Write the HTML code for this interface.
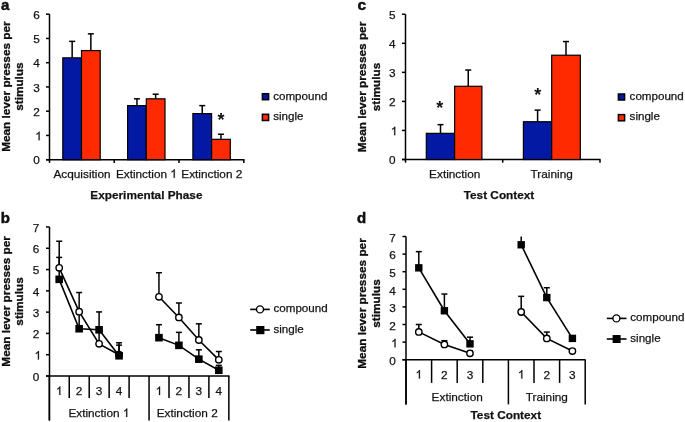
<!DOCTYPE html>
<html><head><meta charset="utf-8"><title>Figure</title>
<style>
html,body{margin:0;padding:0;background:#fff;}
body{width:685px;height:422px;overflow:hidden;}
svg{display:block;font-family:"Liberation Sans",sans-serif;will-change:transform;}
svg text{fill:#111;}
</style></head>
<body>
<svg width="685" height="422" viewBox="0 0 685 422">
<rect width="685" height="422" fill="#fff"/>
<g>
<text x="1.10" y="10.20" text-anchor="start" font-size="15" font-weight="bold" stroke="#000" stroke-width="0.45">a</text>
<line x1="49.50" y1="14.20" x2="49.50" y2="159.70" stroke="#000" stroke-width="1.5"/>
<line x1="46.00" y1="159.70" x2="49.50" y2="159.70" stroke="#000" stroke-width="1.5"/>
<text x="39.90" y="164.40" text-anchor="end" font-size="11.8" stroke="#1a1a1a" stroke-width="0.25">0</text>
<line x1="46.00" y1="135.45" x2="49.50" y2="135.45" stroke="#000" stroke-width="1.5"/>
<path d="M763 0H583V1147Q518 1085 412.5 1023Q307 961 223 930V1104Q374 1175 487 1276Q600 1377 647 1472H763Z" transform="translate(35.24,140.15) scale(0.00576,-0.00576)" fill="#111" stroke="#1a1a1a" stroke-width="0.25" vector-effect="non-scaling-stroke"/>
<line x1="46.00" y1="111.20" x2="49.50" y2="111.20" stroke="#000" stroke-width="1.5"/>
<text x="39.90" y="115.90" text-anchor="end" font-size="11.8" stroke="#1a1a1a" stroke-width="0.25">2</text>
<line x1="46.00" y1="86.95" x2="49.50" y2="86.95" stroke="#000" stroke-width="1.5"/>
<text x="39.90" y="91.65" text-anchor="end" font-size="11.8" stroke="#1a1a1a" stroke-width="0.25">3</text>
<line x1="46.00" y1="62.70" x2="49.50" y2="62.70" stroke="#000" stroke-width="1.5"/>
<text x="39.90" y="67.40" text-anchor="end" font-size="11.8" stroke="#1a1a1a" stroke-width="0.25">4</text>
<line x1="46.00" y1="38.45" x2="49.50" y2="38.45" stroke="#000" stroke-width="1.5"/>
<text x="39.90" y="43.15" text-anchor="end" font-size="11.8" stroke="#1a1a1a" stroke-width="0.25">5</text>
<line x1="46.00" y1="14.20" x2="49.50" y2="14.20" stroke="#000" stroke-width="1.5"/>
<text x="39.90" y="18.90" text-anchor="end" font-size="11.8" stroke="#1a1a1a" stroke-width="0.25">6</text>
<line x1="46.00" y1="159.70" x2="244.50" y2="159.70" stroke="#000" stroke-width="1.5"/>
<line x1="49.50" y1="159.70" x2="49.50" y2="162.90" stroke="#000" stroke-width="1.5"/>
<line x1="114.20" y1="159.70" x2="114.20" y2="162.90" stroke="#000" stroke-width="1.5"/>
<line x1="179.00" y1="159.70" x2="179.00" y2="162.90" stroke="#000" stroke-width="1.5"/>
<line x1="243.80" y1="159.70" x2="243.80" y2="162.90" stroke="#000" stroke-width="1.5"/>
<rect x="62.80" y="57.85" width="18.70" height="101.85" fill="#0319a4" stroke="#000" stroke-width="1.2"/>
<rect x="81.50" y="50.57" width="18.70" height="109.12" fill="#ff2a00" stroke="#000" stroke-width="1.2"/>
<line x1="72.15" y1="57.85" x2="72.15" y2="41.36" stroke="#000" stroke-width="1.5"/>
<line x1="69.15" y1="41.36" x2="75.15" y2="41.36" stroke="#000" stroke-width="1.5"/>
<line x1="90.85" y1="50.57" x2="90.85" y2="33.84" stroke="#000" stroke-width="1.5"/>
<line x1="87.85" y1="33.84" x2="93.85" y2="33.84" stroke="#000" stroke-width="1.5"/>
<rect x="127.60" y="105.62" width="18.70" height="54.08" fill="#0319a4" stroke="#000" stroke-width="1.2"/>
<rect x="146.30" y="98.83" width="18.70" height="60.87" fill="#ff2a00" stroke="#000" stroke-width="1.2"/>
<line x1="136.95" y1="105.62" x2="136.95" y2="98.83" stroke="#000" stroke-width="1.5"/>
<line x1="133.95" y1="98.83" x2="139.95" y2="98.83" stroke="#000" stroke-width="1.5"/>
<line x1="155.65" y1="98.83" x2="155.65" y2="94.22" stroke="#000" stroke-width="1.5"/>
<line x1="152.65" y1="94.22" x2="158.65" y2="94.22" stroke="#000" stroke-width="1.5"/>
<rect x="192.90" y="113.62" width="18.70" height="46.07" fill="#0319a4" stroke="#000" stroke-width="1.2"/>
<rect x="211.60" y="139.33" width="18.70" height="20.37" fill="#ff2a00" stroke="#000" stroke-width="1.2"/>
<line x1="202.25" y1="113.62" x2="202.25" y2="105.62" stroke="#000" stroke-width="1.5"/>
<line x1="199.25" y1="105.62" x2="205.25" y2="105.62" stroke="#000" stroke-width="1.5"/>
<line x1="220.95" y1="139.33" x2="220.95" y2="134.24" stroke="#000" stroke-width="1.5"/>
<line x1="217.95" y1="134.24" x2="223.95" y2="134.24" stroke="#000" stroke-width="1.5"/>
<text x="221.10" y="126.07" text-anchor="middle" font-size="18" font-weight="bold">*</text>
<text transform="translate(9.50,86.60) rotate(-90)" text-anchor="middle" font-size="11.8" font-weight="bold" stroke="#000" stroke-width="0.3">Mean lever presses per</text>
<text transform="translate(23.20,86.60) rotate(-90)" text-anchor="middle" font-size="11.8" font-weight="bold" stroke="#000" stroke-width="0.3">stimulus</text>
<text x="82.00" y="177.80" text-anchor="middle" font-size="11.8" stroke="#1a1a1a" stroke-width="0.25">Acquisition</text>
<text x="115.90" y="177.80" text-anchor="start" font-size="11.8" stroke="#1a1a1a" stroke-width="0.25">Extinction </text>
<path d="M763 0H583V1147Q518 1085 412.5 1023Q307 961 223 930V1104Q374 1175 487 1276Q600 1377 647 1472H763Z" transform="translate(170.34,177.80) scale(0.00576,-0.00576)" fill="#111" stroke="#1a1a1a" stroke-width="0.25" vector-effect="non-scaling-stroke"/>
<text x="211.80" y="177.80" text-anchor="middle" font-size="11.8" stroke="#1a1a1a" stroke-width="0.25">Extinction 2</text>
<text x="146.40" y="198.80" text-anchor="middle" font-size="11.8" font-weight="bold" stroke="#1a1a1a" stroke-width="0.25">Experimental Phase</text>
<rect x="262.4" y="93.7" width="6.2" height="6.0" fill="#0319a4" stroke="#000" stroke-width="1.5"/>
<rect x="262.4" y="114.3" width="6.2" height="6.2" fill="#ff2a00" stroke="#000" stroke-width="1.5"/>
<text x="273.20" y="99.80" text-anchor="start" font-size="11.6" stroke="#1a1a1a" stroke-width="0.25">compound</text>
<text x="273.20" y="119.80" text-anchor="start" font-size="11.6" stroke="#1a1a1a" stroke-width="0.25">single</text>
</g>
<g>
<text x="357.40" y="10.00" text-anchor="start" font-size="15.5" font-weight="bold" stroke="#000" stroke-width="0.45">c</text>
<line x1="405.50" y1="14.25" x2="405.50" y2="159.50" stroke="#000" stroke-width="1.5"/>
<line x1="402.00" y1="159.50" x2="405.50" y2="159.50" stroke="#000" stroke-width="1.5"/>
<text x="395.50" y="164.20" text-anchor="end" font-size="11.8" stroke="#1a1a1a" stroke-width="0.25">0</text>
<line x1="402.00" y1="130.45" x2="405.50" y2="130.45" stroke="#000" stroke-width="1.5"/>
<path d="M763 0H583V1147Q518 1085 412.5 1023Q307 961 223 930V1104Q374 1175 487 1276Q600 1377 647 1472H763Z" transform="translate(390.84,135.15) scale(0.00576,-0.00576)" fill="#111" stroke="#1a1a1a" stroke-width="0.25" vector-effect="non-scaling-stroke"/>
<line x1="402.00" y1="101.40" x2="405.50" y2="101.40" stroke="#000" stroke-width="1.5"/>
<text x="395.50" y="106.10" text-anchor="end" font-size="11.8" stroke="#1a1a1a" stroke-width="0.25">2</text>
<line x1="402.00" y1="72.35" x2="405.50" y2="72.35" stroke="#000" stroke-width="1.5"/>
<text x="395.50" y="77.05" text-anchor="end" font-size="11.8" stroke="#1a1a1a" stroke-width="0.25">3</text>
<line x1="402.00" y1="43.30" x2="405.50" y2="43.30" stroke="#000" stroke-width="1.5"/>
<text x="395.50" y="48.00" text-anchor="end" font-size="11.8" stroke="#1a1a1a" stroke-width="0.25">4</text>
<line x1="402.00" y1="14.25" x2="405.50" y2="14.25" stroke="#000" stroke-width="1.5"/>
<text x="395.50" y="18.95" text-anchor="end" font-size="11.8" stroke="#1a1a1a" stroke-width="0.25">5</text>
<line x1="402.00" y1="159.50" x2="600.50" y2="159.50" stroke="#000" stroke-width="1.5"/>
<line x1="405.50" y1="159.50" x2="405.50" y2="162.70" stroke="#000" stroke-width="1.5"/>
<line x1="502.70" y1="159.50" x2="502.70" y2="162.70" stroke="#000" stroke-width="1.5"/>
<line x1="600.00" y1="159.50" x2="600.00" y2="162.70" stroke="#000" stroke-width="1.5"/>
<rect x="426.30" y="133.35" width="28.30" height="26.15" fill="#0319a4" stroke="#000" stroke-width="1.2"/>
<rect x="454.60" y="86.29" width="27.30" height="73.21" fill="#ff2a00" stroke="#000" stroke-width="1.2"/>
<line x1="440.50" y1="133.35" x2="440.50" y2="124.64" stroke="#000" stroke-width="1.5"/>
<line x1="437.50" y1="124.64" x2="443.50" y2="124.64" stroke="#000" stroke-width="1.5"/>
<line x1="468.25" y1="86.29" x2="468.25" y2="70.03" stroke="#000" stroke-width="1.5"/>
<line x1="465.25" y1="70.03" x2="471.25" y2="70.03" stroke="#000" stroke-width="1.5"/>
<rect x="523.40" y="121.73" width="28.30" height="37.77" fill="#0319a4" stroke="#000" stroke-width="1.2"/>
<rect x="551.70" y="55.21" width="28.60" height="104.29" fill="#ff2a00" stroke="#000" stroke-width="1.2"/>
<line x1="537.60" y1="121.73" x2="537.60" y2="110.12" stroke="#000" stroke-width="1.5"/>
<line x1="534.60" y1="110.12" x2="540.60" y2="110.12" stroke="#000" stroke-width="1.5"/>
<line x1="566.00" y1="55.21" x2="566.00" y2="41.56" stroke="#000" stroke-width="1.5"/>
<line x1="563.00" y1="41.56" x2="569.00" y2="41.56" stroke="#000" stroke-width="1.5"/>
<text x="439.70" y="113.87" text-anchor="middle" font-size="18" font-weight="bold">*</text>
<text x="537.70" y="100.97" text-anchor="middle" font-size="18" font-weight="bold">*</text>
<text transform="translate(366.30,87.00) rotate(-90)" text-anchor="middle" font-size="11.8" font-weight="bold" stroke="#000" stroke-width="0.3">Mean lever presses per</text>
<text transform="translate(380.00,87.00) rotate(-90)" text-anchor="middle" font-size="11.8" font-weight="bold" stroke="#000" stroke-width="0.3">stimulus</text>
<text x="454.70" y="177.80" text-anchor="middle" font-size="11.8" stroke="#1a1a1a" stroke-width="0.25">Extinction</text>
<text x="551.70" y="177.80" text-anchor="middle" font-size="11.8" stroke="#1a1a1a" stroke-width="0.25">Training</text>
<text x="499.00" y="198.80" text-anchor="middle" font-size="11.8" font-weight="bold" stroke="#1a1a1a" stroke-width="0.25">Test Context</text>
<rect x="618.4" y="94.0" width="6.2" height="6.0" fill="#0319a4" stroke="#000" stroke-width="1.5"/>
<rect x="618.4" y="114.6" width="6.2" height="6.2" fill="#ff2a00" stroke="#000" stroke-width="1.5"/>
<text x="629.60" y="99.80" text-anchor="start" font-size="11.6" stroke="#1a1a1a" stroke-width="0.25">compound</text>
<text x="629.60" y="120.20" text-anchor="start" font-size="11.6" stroke="#1a1a1a" stroke-width="0.25">single</text>
</g>
<g>
<text x="0.80" y="222.70" text-anchor="start" font-size="15" font-weight="bold" stroke="#000" stroke-width="0.45">b</text>
<line x1="49.50" y1="226.97" x2="49.50" y2="420.50" stroke="#000" stroke-width="1.5"/>
<line x1="46.00" y1="376.00" x2="49.50" y2="376.00" stroke="#000" stroke-width="1.5"/>
<text x="39.20" y="380.70" text-anchor="end" font-size="11.8" stroke="#1a1a1a" stroke-width="0.25">0</text>
<line x1="46.00" y1="354.71" x2="49.50" y2="354.71" stroke="#000" stroke-width="1.5"/>
<path d="M763 0H583V1147Q518 1085 412.5 1023Q307 961 223 930V1104Q374 1175 487 1276Q600 1377 647 1472H763Z" transform="translate(34.54,359.41) scale(0.00576,-0.00576)" fill="#111" stroke="#1a1a1a" stroke-width="0.25" vector-effect="non-scaling-stroke"/>
<line x1="46.00" y1="333.42" x2="49.50" y2="333.42" stroke="#000" stroke-width="1.5"/>
<text x="39.20" y="338.12" text-anchor="end" font-size="11.8" stroke="#1a1a1a" stroke-width="0.25">2</text>
<line x1="46.00" y1="312.13" x2="49.50" y2="312.13" stroke="#000" stroke-width="1.5"/>
<text x="39.20" y="316.83" text-anchor="end" font-size="11.8" stroke="#1a1a1a" stroke-width="0.25">3</text>
<line x1="46.00" y1="290.84" x2="49.50" y2="290.84" stroke="#000" stroke-width="1.5"/>
<text x="39.20" y="295.54" text-anchor="end" font-size="11.8" stroke="#1a1a1a" stroke-width="0.25">4</text>
<line x1="46.00" y1="269.55" x2="49.50" y2="269.55" stroke="#000" stroke-width="1.5"/>
<text x="39.20" y="274.25" text-anchor="end" font-size="11.8" stroke="#1a1a1a" stroke-width="0.25">5</text>
<line x1="46.00" y1="248.26" x2="49.50" y2="248.26" stroke="#000" stroke-width="1.5"/>
<text x="39.20" y="252.96" text-anchor="end" font-size="11.8" stroke="#1a1a1a" stroke-width="0.25">6</text>
<line x1="46.00" y1="226.97" x2="49.50" y2="226.97" stroke="#000" stroke-width="1.5"/>
<text x="39.20" y="231.67" text-anchor="end" font-size="11.8" stroke="#1a1a1a" stroke-width="0.25">7</text>
<line x1="46.00" y1="376.00" x2="229.50" y2="376.00" stroke="#000" stroke-width="1.5"/>
<line x1="49.30" y1="376.00" x2="49.30" y2="420.50" stroke="#000" stroke-width="1.5"/>
<line x1="69.25" y1="376.00" x2="69.25" y2="398.00" stroke="#000" stroke-width="1.5"/>
<line x1="89.20" y1="376.00" x2="89.20" y2="398.00" stroke="#000" stroke-width="1.5"/>
<line x1="109.15" y1="376.00" x2="109.15" y2="398.00" stroke="#000" stroke-width="1.5"/>
<line x1="129.10" y1="376.00" x2="129.10" y2="398.00" stroke="#000" stroke-width="1.5"/>
<line x1="149.05" y1="376.00" x2="149.05" y2="420.50" stroke="#000" stroke-width="1.5"/>
<line x1="169.00" y1="376.00" x2="169.00" y2="398.00" stroke="#000" stroke-width="1.5"/>
<line x1="188.95" y1="376.00" x2="188.95" y2="398.00" stroke="#000" stroke-width="1.5"/>
<line x1="208.90" y1="376.00" x2="208.90" y2="398.00" stroke="#000" stroke-width="1.5"/>
<line x1="228.85" y1="376.00" x2="228.85" y2="420.50" stroke="#000" stroke-width="1.5"/>
<path d="M763 0H583V1147Q518 1085 412.5 1023Q307 961 223 930V1104Q374 1175 487 1276Q600 1377 647 1472H763Z" transform="translate(55.92,395.00) scale(0.00576,-0.00576)" fill="#111" stroke="#1a1a1a" stroke-width="0.25" vector-effect="non-scaling-stroke"/>
<text x="79.15" y="395.00" text-anchor="middle" font-size="11.8" stroke="#1a1a1a" stroke-width="0.25">2</text>
<text x="99.10" y="395.00" text-anchor="middle" font-size="11.8" stroke="#1a1a1a" stroke-width="0.25">3</text>
<text x="119.05" y="395.00" text-anchor="middle" font-size="11.8" stroke="#1a1a1a" stroke-width="0.25">4</text>
<path d="M763 0H583V1147Q518 1085 412.5 1023Q307 961 223 930V1104Q374 1175 487 1276Q600 1377 647 1472H763Z" transform="translate(155.67,395.00) scale(0.00576,-0.00576)" fill="#111" stroke="#1a1a1a" stroke-width="0.25" vector-effect="non-scaling-stroke"/>
<text x="178.90" y="395.00" text-anchor="middle" font-size="11.8" stroke="#1a1a1a" stroke-width="0.25">2</text>
<text x="198.85" y="395.00" text-anchor="middle" font-size="11.8" stroke="#1a1a1a" stroke-width="0.25">3</text>
<text x="218.80" y="395.00" text-anchor="middle" font-size="11.8" stroke="#1a1a1a" stroke-width="0.25">4</text>
<text x="68.40" y="417.00" text-anchor="start" font-size="11.8" stroke="#1a1a1a" stroke-width="0.25">Extinction </text>
<path d="M763 0H583V1147Q518 1085 412.5 1023Q307 961 223 930V1104Q374 1175 487 1276Q600 1377 647 1472H763Z" transform="translate(122.84,417.00) scale(0.00576,-0.00576)" fill="#111" stroke="#1a1a1a" stroke-width="0.25" vector-effect="non-scaling-stroke"/>
<text x="187.20" y="417.00" text-anchor="middle" font-size="11.8" stroke="#1a1a1a" stroke-width="0.25">Extinction 2</text>
<line x1="59.20" y1="267.85" x2="59.20" y2="241.23" stroke="#000" stroke-width="1.5"/>
<line x1="56.20" y1="241.23" x2="62.20" y2="241.23" stroke="#000" stroke-width="1.5"/>
<line x1="79.15" y1="311.70" x2="79.15" y2="292.54" stroke="#000" stroke-width="1.5"/>
<line x1="76.15" y1="292.54" x2="82.15" y2="292.54" stroke="#000" stroke-width="1.5"/>
<line x1="99.10" y1="343.85" x2="99.10" y2="330.87" stroke="#000" stroke-width="1.5"/>
<line x1="96.10" y1="330.87" x2="102.10" y2="330.87" stroke="#000" stroke-width="1.5"/>
<line x1="119.05" y1="354.71" x2="119.05" y2="342.79" stroke="#000" stroke-width="1.5"/>
<line x1="116.05" y1="342.79" x2="122.05" y2="342.79" stroke="#000" stroke-width="1.5"/>
<line x1="158.95" y1="296.80" x2="158.95" y2="272.74" stroke="#000" stroke-width="1.5"/>
<line x1="155.95" y1="272.74" x2="161.95" y2="272.74" stroke="#000" stroke-width="1.5"/>
<line x1="178.90" y1="317.45" x2="178.90" y2="302.98" stroke="#000" stroke-width="1.5"/>
<line x1="175.90" y1="302.98" x2="181.90" y2="302.98" stroke="#000" stroke-width="1.5"/>
<line x1="198.85" y1="340.02" x2="198.85" y2="323.84" stroke="#000" stroke-width="1.5"/>
<line x1="195.85" y1="323.84" x2="201.85" y2="323.84" stroke="#000" stroke-width="1.5"/>
<line x1="218.80" y1="359.82" x2="218.80" y2="351.52" stroke="#000" stroke-width="1.5"/>
<line x1="215.80" y1="351.52" x2="221.80" y2="351.52" stroke="#000" stroke-width="1.5"/>
<line x1="59.20" y1="279.34" x2="59.20" y2="257.41" stroke="#000" stroke-width="1.5"/>
<line x1="56.20" y1="257.41" x2="62.20" y2="257.41" stroke="#000" stroke-width="1.5"/>
<line x1="79.15" y1="328.74" x2="79.15" y2="312.56" stroke="#000" stroke-width="1.5"/>
<line x1="76.15" y1="312.56" x2="82.15" y2="312.56" stroke="#000" stroke-width="1.5"/>
<line x1="99.10" y1="329.80" x2="99.10" y2="311.92" stroke="#000" stroke-width="1.5"/>
<line x1="96.10" y1="311.92" x2="102.10" y2="311.92" stroke="#000" stroke-width="1.5"/>
<line x1="119.05" y1="355.77" x2="119.05" y2="345.13" stroke="#000" stroke-width="1.5"/>
<line x1="116.05" y1="345.13" x2="122.05" y2="345.13" stroke="#000" stroke-width="1.5"/>
<line x1="158.95" y1="337.68" x2="158.95" y2="324.69" stroke="#000" stroke-width="1.5"/>
<line x1="155.95" y1="324.69" x2="161.95" y2="324.69" stroke="#000" stroke-width="1.5"/>
<line x1="178.90" y1="345.34" x2="178.90" y2="332.36" stroke="#000" stroke-width="1.5"/>
<line x1="175.90" y1="332.36" x2="181.90" y2="332.36" stroke="#000" stroke-width="1.5"/>
<line x1="198.85" y1="359.18" x2="198.85" y2="349.81" stroke="#000" stroke-width="1.5"/>
<line x1="195.85" y1="349.81" x2="201.85" y2="349.81" stroke="#000" stroke-width="1.5"/>
<line x1="218.80" y1="370.25" x2="218.80" y2="365.36" stroke="#000" stroke-width="1.5"/>
<line x1="215.80" y1="365.36" x2="221.80" y2="365.36" stroke="#000" stroke-width="1.5"/>
<polyline points="59.20,267.85 79.15,311.70 99.10,343.85 119.05,354.71" fill="none" stroke="#000" stroke-width="1.6"/>
<polyline points="158.95,296.80 178.90,317.45 198.85,340.02 218.80,359.82" fill="none" stroke="#000" stroke-width="1.6"/>
<polyline points="59.20,279.34 79.15,328.74 99.10,329.80 119.05,355.77" fill="none" stroke="#000" stroke-width="1.6"/>
<polyline points="158.95,337.68 178.90,345.34 198.85,359.18 218.80,370.25" fill="none" stroke="#000" stroke-width="1.6"/>
<circle cx="59.20" cy="267.85" r="3.2" fill="#fff" stroke="#000" stroke-width="1.4"/>
<circle cx="79.15" cy="311.70" r="3.2" fill="#fff" stroke="#000" stroke-width="1.4"/>
<circle cx="99.10" cy="343.85" r="3.2" fill="#fff" stroke="#000" stroke-width="1.4"/>
<circle cx="119.05" cy="354.71" r="3.2" fill="#fff" stroke="#000" stroke-width="1.4"/>
<circle cx="158.95" cy="296.80" r="3.2" fill="#fff" stroke="#000" stroke-width="1.4"/>
<circle cx="178.90" cy="317.45" r="3.2" fill="#fff" stroke="#000" stroke-width="1.4"/>
<circle cx="198.85" cy="340.02" r="3.2" fill="#fff" stroke="#000" stroke-width="1.4"/>
<circle cx="218.80" cy="359.82" r="3.2" fill="#fff" stroke="#000" stroke-width="1.4"/>
<rect x="55.40" y="275.54" width="7.6" height="7.6" fill="#000"/>
<rect x="75.35" y="324.94" width="7.6" height="7.6" fill="#000"/>
<rect x="95.30" y="326.00" width="7.6" height="7.6" fill="#000"/>
<rect x="115.25" y="351.97" width="7.6" height="7.6" fill="#000"/>
<rect x="155.15" y="333.88" width="7.6" height="7.6" fill="#000"/>
<rect x="175.10" y="341.54" width="7.6" height="7.6" fill="#000"/>
<rect x="195.05" y="355.38" width="7.6" height="7.6" fill="#000"/>
<rect x="215.00" y="366.45" width="7.6" height="7.6" fill="#000"/>
<text transform="translate(10.40,301.40) rotate(-90)" text-anchor="middle" font-size="11.8" font-weight="bold" stroke="#000" stroke-width="0.3">Mean lever presses per</text>
<text transform="translate(23.30,301.40) rotate(-90)" text-anchor="middle" font-size="11.8" font-weight="bold" stroke="#000" stroke-width="0.3">stimulus</text>
<line x1="250.20" y1="309.40" x2="269.80" y2="309.40" stroke="#000" stroke-width="1.6"/>
<circle cx="260.00" cy="309.40" r="3.5" fill="#fff" stroke="#000" stroke-width="1.4"/>
<text x="273.50" y="311.60" text-anchor="start" font-size="11.6" stroke="#1a1a1a" stroke-width="0.25">compound</text>
<line x1="250.20" y1="330.00" x2="269.80" y2="330.00" stroke="#000" stroke-width="1.6"/>
<rect x="256.20" y="326.00" width="8.2" height="8.2" fill="#000"/>
<text x="273.50" y="332.50" text-anchor="start" font-size="11.6" stroke="#1a1a1a" stroke-width="0.25">single</text>
</g>
<g>
<text x="357.10" y="223.00" text-anchor="start" font-size="15" font-weight="bold" stroke="#000" stroke-width="0.45">d</text>
<line x1="406.00" y1="236.50" x2="406.00" y2="404.40" stroke="#000" stroke-width="1.5"/>
<line x1="402.50" y1="359.70" x2="406.00" y2="359.70" stroke="#000" stroke-width="1.5"/>
<text x="395.80" y="364.90" text-anchor="end" font-size="11.8" stroke="#1a1a1a" stroke-width="0.25">0</text>
<line x1="402.50" y1="342.10" x2="406.00" y2="342.10" stroke="#000" stroke-width="1.5"/>
<path d="M763 0H583V1147Q518 1085 412.5 1023Q307 961 223 930V1104Q374 1175 487 1276Q600 1377 647 1472H763Z" transform="translate(391.14,347.30) scale(0.00576,-0.00576)" fill="#111" stroke="#1a1a1a" stroke-width="0.25" vector-effect="non-scaling-stroke"/>
<line x1="402.50" y1="324.50" x2="406.00" y2="324.50" stroke="#000" stroke-width="1.5"/>
<text x="395.80" y="329.70" text-anchor="end" font-size="11.8" stroke="#1a1a1a" stroke-width="0.25">2</text>
<line x1="402.50" y1="306.90" x2="406.00" y2="306.90" stroke="#000" stroke-width="1.5"/>
<text x="395.80" y="312.10" text-anchor="end" font-size="11.8" stroke="#1a1a1a" stroke-width="0.25">3</text>
<line x1="402.50" y1="289.30" x2="406.00" y2="289.30" stroke="#000" stroke-width="1.5"/>
<text x="395.80" y="294.50" text-anchor="end" font-size="11.8" stroke="#1a1a1a" stroke-width="0.25">4</text>
<line x1="402.50" y1="271.70" x2="406.00" y2="271.70" stroke="#000" stroke-width="1.5"/>
<text x="395.80" y="276.90" text-anchor="end" font-size="11.8" stroke="#1a1a1a" stroke-width="0.25">5</text>
<line x1="402.50" y1="254.10" x2="406.00" y2="254.10" stroke="#000" stroke-width="1.5"/>
<text x="395.80" y="259.30" text-anchor="end" font-size="11.8" stroke="#1a1a1a" stroke-width="0.25">6</text>
<line x1="402.50" y1="236.50" x2="406.00" y2="236.50" stroke="#000" stroke-width="1.5"/>
<text x="395.80" y="241.70" text-anchor="end" font-size="11.8" stroke="#1a1a1a" stroke-width="0.25">7</text>
<line x1="402.50" y1="359.70" x2="585.60" y2="359.70" stroke="#000" stroke-width="1.5"/>
<line x1="406.00" y1="359.70" x2="406.00" y2="404.40" stroke="#000" stroke-width="1.5"/>
<line x1="431.60" y1="359.70" x2="431.60" y2="382.90" stroke="#000" stroke-width="1.5"/>
<line x1="457.20" y1="359.70" x2="457.20" y2="382.90" stroke="#000" stroke-width="1.5"/>
<line x1="482.80" y1="359.70" x2="482.80" y2="382.90" stroke="#000" stroke-width="1.5"/>
<line x1="508.40" y1="359.70" x2="508.40" y2="404.40" stroke="#000" stroke-width="1.5"/>
<line x1="534.00" y1="359.70" x2="534.00" y2="382.90" stroke="#000" stroke-width="1.5"/>
<line x1="559.60" y1="359.70" x2="559.60" y2="382.90" stroke="#000" stroke-width="1.5"/>
<line x1="585.20" y1="359.70" x2="585.20" y2="404.40" stroke="#000" stroke-width="1.5"/>
<path d="M763 0H583V1147Q518 1085 412.5 1023Q307 961 223 930V1104Q374 1175 487 1276Q600 1377 647 1472H763Z" transform="translate(415.52,378.60) scale(0.00576,-0.00576)" fill="#111" stroke="#1a1a1a" stroke-width="0.25" vector-effect="non-scaling-stroke"/>
<text x="444.40" y="378.60" text-anchor="middle" font-size="11.8" stroke="#1a1a1a" stroke-width="0.25">2</text>
<text x="470.00" y="378.60" text-anchor="middle" font-size="11.8" stroke="#1a1a1a" stroke-width="0.25">3</text>
<path d="M763 0H583V1147Q518 1085 412.5 1023Q307 961 223 930V1104Q374 1175 487 1276Q600 1377 647 1472H763Z" transform="translate(517.92,378.60) scale(0.00576,-0.00576)" fill="#111" stroke="#1a1a1a" stroke-width="0.25" vector-effect="non-scaling-stroke"/>
<text x="546.80" y="378.60" text-anchor="middle" font-size="11.8" stroke="#1a1a1a" stroke-width="0.25">2</text>
<text x="572.40" y="378.60" text-anchor="middle" font-size="11.8" stroke="#1a1a1a" stroke-width="0.25">3</text>
<text x="457.20" y="401.00" text-anchor="middle" font-size="11.8" stroke="#1a1a1a" stroke-width="0.25">Extinction</text>
<text x="546.80" y="401.00" text-anchor="middle" font-size="11.8" stroke="#1a1a1a" stroke-width="0.25">Training</text>
<text x="505.80" y="419.20" text-anchor="middle" font-size="11.8" font-weight="bold" stroke="#1a1a1a" stroke-width="0.25">Test Context</text>
<line x1="418.80" y1="331.89" x2="418.80" y2="324.50" stroke="#000" stroke-width="1.5"/>
<line x1="415.80" y1="324.50" x2="421.80" y2="324.50" stroke="#000" stroke-width="1.5"/>
<line x1="444.40" y1="344.39" x2="444.40" y2="340.69" stroke="#000" stroke-width="1.5"/>
<line x1="441.40" y1="340.69" x2="447.40" y2="340.69" stroke="#000" stroke-width="1.5"/>
<line x1="470.00" y1="353.36" x2="470.00" y2="350.90" stroke="#000" stroke-width="1.5"/>
<line x1="467.00" y1="350.90" x2="473.00" y2="350.90" stroke="#000" stroke-width="1.5"/>
<line x1="521.20" y1="312.00" x2="521.20" y2="296.34" stroke="#000" stroke-width="1.5"/>
<line x1="518.20" y1="296.34" x2="524.20" y2="296.34" stroke="#000" stroke-width="1.5"/>
<line x1="546.80" y1="338.40" x2="546.80" y2="332.07" stroke="#000" stroke-width="1.5"/>
<line x1="543.80" y1="332.07" x2="549.80" y2="332.07" stroke="#000" stroke-width="1.5"/>
<line x1="572.40" y1="351.08" x2="572.40" y2="349.14" stroke="#000" stroke-width="1.5"/>
<line x1="569.40" y1="349.14" x2="575.40" y2="349.14" stroke="#000" stroke-width="1.5"/>
<line x1="418.80" y1="267.83" x2="418.80" y2="251.64" stroke="#000" stroke-width="1.5"/>
<line x1="415.80" y1="251.64" x2="421.80" y2="251.64" stroke="#000" stroke-width="1.5"/>
<line x1="444.40" y1="310.77" x2="444.40" y2="294.05" stroke="#000" stroke-width="1.5"/>
<line x1="441.40" y1="294.05" x2="447.40" y2="294.05" stroke="#000" stroke-width="1.5"/>
<line x1="470.00" y1="343.86" x2="470.00" y2="337.17" stroke="#000" stroke-width="1.5"/>
<line x1="467.00" y1="337.17" x2="473.00" y2="337.17" stroke="#000" stroke-width="1.5"/>
<line x1="521.20" y1="244.77" x2="521.20" y2="236.50" stroke="#000" stroke-width="1.5"/>
<line x1="546.80" y1="297.57" x2="546.80" y2="287.72" stroke="#000" stroke-width="1.5"/>
<line x1="543.80" y1="287.72" x2="549.80" y2="287.72" stroke="#000" stroke-width="1.5"/>
<line x1="572.40" y1="338.40" x2="572.40" y2="336.82" stroke="#000" stroke-width="1.5"/>
<line x1="569.40" y1="336.82" x2="575.40" y2="336.82" stroke="#000" stroke-width="1.5"/>
<polyline points="418.80,331.89 444.40,344.39 470.00,353.36" fill="none" stroke="#000" stroke-width="1.6"/>
<polyline points="521.20,312.00 546.80,338.40 572.40,351.08" fill="none" stroke="#000" stroke-width="1.6"/>
<polyline points="418.80,267.83 444.40,310.77 470.00,343.86" fill="none" stroke="#000" stroke-width="1.6"/>
<polyline points="521.20,244.77 546.80,297.57 572.40,338.40" fill="none" stroke="#000" stroke-width="1.6"/>
<circle cx="418.80" cy="331.89" r="3.2" fill="#fff" stroke="#000" stroke-width="1.4"/>
<circle cx="444.40" cy="344.39" r="3.2" fill="#fff" stroke="#000" stroke-width="1.4"/>
<circle cx="470.00" cy="353.36" r="3.2" fill="#fff" stroke="#000" stroke-width="1.4"/>
<circle cx="521.20" cy="312.00" r="3.2" fill="#fff" stroke="#000" stroke-width="1.4"/>
<circle cx="546.80" cy="338.40" r="3.2" fill="#fff" stroke="#000" stroke-width="1.4"/>
<circle cx="572.40" cy="351.08" r="3.2" fill="#fff" stroke="#000" stroke-width="1.4"/>
<rect x="415.10" y="264.13" width="7.4" height="7.4" fill="#000"/>
<rect x="440.70" y="307.07" width="7.4" height="7.4" fill="#000"/>
<rect x="466.30" y="340.16" width="7.4" height="7.4" fill="#000"/>
<rect x="517.50" y="241.07" width="7.4" height="7.4" fill="#000"/>
<rect x="543.10" y="293.87" width="7.4" height="7.4" fill="#000"/>
<rect x="568.70" y="334.70" width="7.4" height="7.4" fill="#000"/>
<text transform="translate(366.40,303.50) rotate(-90)" text-anchor="middle" font-size="11.8" font-weight="bold" stroke="#000" stroke-width="0.3">Mean lever presses per</text>
<text transform="translate(380.00,303.50) rotate(-90)" text-anchor="middle" font-size="11.8" font-weight="bold" stroke="#000" stroke-width="0.3">stimulus</text>
<line x1="606.80" y1="318.40" x2="626.50" y2="318.40" stroke="#000" stroke-width="1.6"/>
<circle cx="616.40" cy="318.40" r="3.5" fill="#fff" stroke="#000" stroke-width="1.4"/>
<text x="630.30" y="320.90" text-anchor="start" font-size="11.6" stroke="#1a1a1a" stroke-width="0.25">compound</text>
<line x1="606.80" y1="339.00" x2="626.50" y2="339.00" stroke="#000" stroke-width="1.6"/>
<rect x="612.60" y="335.00" width="8.0" height="8.0" fill="#000"/>
<text x="630.30" y="341.80" text-anchor="start" font-size="11.6" stroke="#1a1a1a" stroke-width="0.25">single</text>
</g>
</svg>
</body></html>
